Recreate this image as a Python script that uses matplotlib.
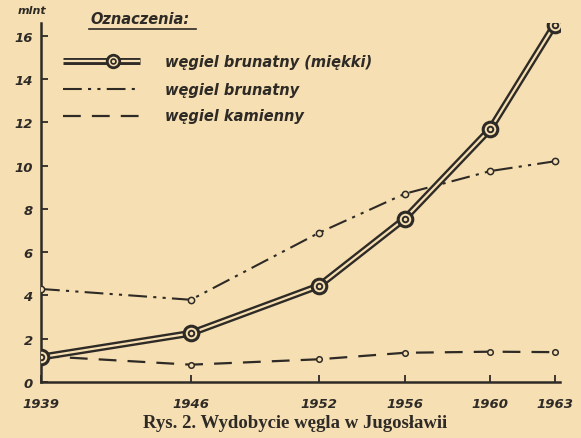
import matplotlib
matplotlib.use("Agg")
import matplotlib.pyplot as plt
from matplotlib.lines import Line2D

years = [1939, 1946, 1952, 1956, 1960, 1963]
brown_soft = [1.15, 2.25, 4.45, 7.55, 11.7, 16.5]
brown = [4.3, 3.8, 6.9, 8.7, 9.75, 10.2]
hard = [1.2, 0.8, 1.05, 1.35, 1.4, 1.38]
yticks = [0, 2, 4, 6, 8, 10, 12, 14, 16]
legend_labels = ["węgiel brunatny (miękki)", "węgiel brunatny", "węgiel kamienny"]

BG = "#f6dfb2"
INK = "#2e2a26"

fig = plt.figure(figsize=(5.81, 4.39), dpi=100, facecolor=BG)
ax = fig.add_axes([0.0706, 0.1276, 0.893, 0.818])
ax.set_facecolor(BG)
ax.set_xlim(1939, 1963.25)
ax.set_ylim(0, 16.6)

# hard coal (dashed)
ax.plot(years, hard, color=INK, lw=1.6, linestyle=(0, (8, 5)), marker="o",
        ms=4, mfc=BG, mec=INK, mew=1.1, zorder=3)
# brown coal (dash-dot-dot)
ax.plot(years, brown, color=INK, lw=1.5, linestyle=(0, (9, 3, 1.5, 3, 1.5, 3)),
        marker="o", ms=4.5, mfc=BG, mec=INK, mew=1.1, zorder=3)
# soft brown coal (double line)
ax.plot(years, brown_soft, color=INK, lw=5, solid_capstyle="butt", zorder=4)
ax.plot(years, brown_soft, color=BG, lw=1.6, solid_capstyle="butt", zorder=5)
ax.plot(years, brown_soft, linestyle="none", marker="o", ms=10.5, mfc=BG,
        mec=INK, mew=2.2, zorder=6)
ax.plot(years, brown_soft, linestyle="none", marker="o", ms=4, mfc=BG,
        mec=INK, mew=1.4, zorder=7)

for s in ["top", "right"]:
    ax.spines[s].set_visible(False)
for s in ["left", "bottom"]:
    ax.spines[s].set_color(INK)
    ax.spines[s].set_linewidth(1.8)

tick_font = dict(family="DejaVu Sans", style="italic", weight="bold", size=9.5)
ax.set_yticks(yticks)
ax.set_yticklabels([str(v) for v in yticks], fontdict=tick_font, color=INK)
ax.set_xticks(years)
ax.set_xticklabels([str(v) for v in years], fontdict=tick_font, color=INK)
ax.tick_params(axis="both", direction="in", length=5, width=1.3, color=INK)
ax.tick_params(axis="y", pad=6)
ax.tick_params(axis="x", pad=11)

fig.text(0.03, 0.975, "mlnt", fontdict=dict(family="DejaVu Sans", style="italic",
         weight="bold", size=8), color=INK, ha="left", va="center")

# Legend
fig.text(0.155, 0.955, "Oznaczenia:", fontdict=dict(family="DejaVu Sans", style="italic",
         weight="bold", size=10.5), color=INK, ha="left", va="center")
fig.add_artist(Line2D([0.153, 0.337], [0.932, 0.932], color=INK, lw=1.2))

ly = [1 - 62 / 439, 1 - 90 / 439, 1 - 117 / 439]
x0, x1 = 63 / 581, 140 / 581
fig.add_artist(Line2D([x0, x1], [ly[0], ly[0]], color=INK, lw=5, solid_capstyle="butt"))
fig.add_artist(Line2D([x0, x1], [ly[0], ly[0]], color=BG, lw=1.6, solid_capstyle="butt"))
fig.add_artist(Line2D([113 / 581], [ly[0]], marker="o", ms=9, mfc=BG, mec=INK, mew=2))
fig.add_artist(Line2D([113 / 581], [ly[0]], marker="o", ms=3.5, mfc=BG, mec=INK, mew=1.2))
fig.add_artist(Line2D([x0, x1], [ly[1], ly[1]], color=INK, lw=1.5,
                      linestyle=(0, (9, 3, 1.5, 3, 1.5, 3))))
fig.add_artist(Line2D([x0, x1], [ly[2], ly[2]], color=INK, lw=1.6,
                      linestyle=(0, (8, 5))))
for y, lab in zip(ly, legend_labels):
    fig.text(165 / 581, y, lab, fontdict=dict(family="DejaVu Sans", style="italic",
             weight="bold", size=10.5), color=INK, ha="left", va="center")

fig.text(0.508, 1 - 424 / 439, "Rys. 2. Wydobycie węgla w Jugosławii",
         fontdict=dict(family="Liberation Serif", weight="bold", size=13.5), color=INK,
         ha="center", va="center")

fig.savefig("out.png", dpi=100, facecolor=BG)
